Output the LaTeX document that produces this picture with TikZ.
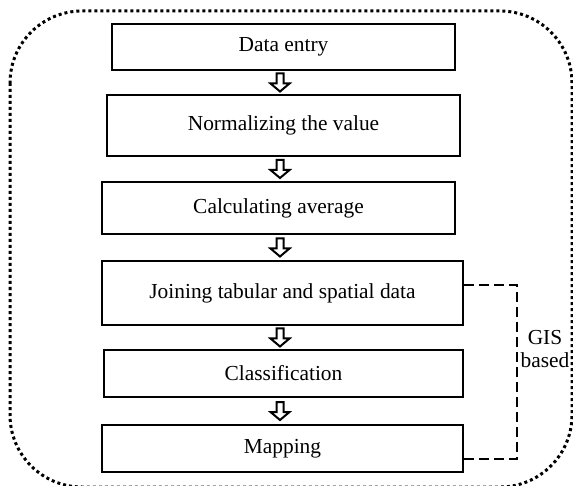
\documentclass[tikz,border=0pt]{standalone}
\usepackage{fontspec}
\setmainfont{Liberation Serif}
\usetikzlibrary{calc}

\begin{document}
\begin{tikzpicture}[x=0.5pt,y=-0.5pt,
  stepbox/.style={draw,line width=1.3pt,inner sep=0pt,
    font=\fontsize{10.7}{12.5}\selectfont},
  hollow arrow/.pic={
    \draw[line width=1pt,line join=miter]
      (-3.5,-9) -- (3.5,-9) -- (3.5,1) -- (9.5,1) -- (0,9) -- (-9.5,1) -- (-3.5,1) -- cycle;
  },
  bracket/.style={line width=1pt,dash pattern=on 5pt off 2.5pt},
  frame/.style={line width=1.5pt,dash pattern=on 1.5pt off 1.5pt}
  ]

  \useasboundingbox (0,0) rectangle (573,486);
  % dotted outline
  \draw[frame,rounded corners=36pt] (10,11) rectangle (572,487);

  \node[stepbox,minimum width=171.5pt,minimum height=23pt] (entry) at (283.5,47) {Data entry};
  \node[stepbox,minimum width=176.5pt,minimum height=30.5pt] (norm) at (283.5,125.5) {Normalizing the value};
  \node[stepbox,minimum width=176.5pt,minimum height=26pt] (avg) at (278.5,208) {Calculating average};
  \node[stepbox,minimum width=180.5pt,minimum height=32pt] (join) at (282.5,293) {Joining tabular and spatial data};
  \node[stepbox,minimum width=179.5pt,minimum height=23.5pt] (class) at (283.5,373.5) {Classification};
  \node[stepbox,minimum width=180.5pt,minimum height=23.5pt] (map) at (282.5,448.5) {Mapping};

  \coordinate (axis) at (280,0);
  \foreach \a/\b in {entry/norm,norm/avg,avg/join,join/class,class/map}{
    \path ($(\a.south)!.5!(\b.north)$) coordinate (mid);
    \pic at (axis |- mid) {hollow arrow};
  }

  % GIS part
  \draw[bracket] ([yshift=4pt]join.east) -- ++(53,0) coordinate (brk) |- ([yshift=-5pt]map.east);
  \node[font=\fontsize{10.7}{11.5}\selectfont,align=center,inner sep=0pt] (gis) at (545,349) {GIS\\based};
\end{tikzpicture}
\end{document}
